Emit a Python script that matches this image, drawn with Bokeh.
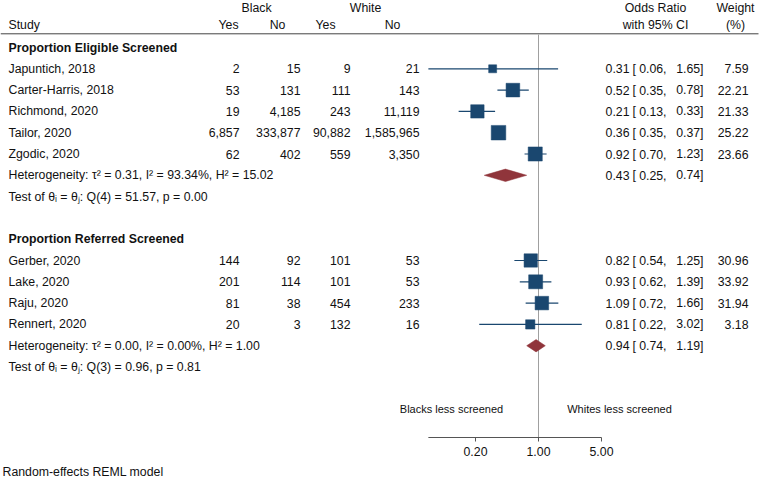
import numpy as np
from bokeh.plotting import figure
from bokeh.models import Range1d
from bokeh.core.properties import value
from bokeh.embed import file_html
from bokeh.resources import INLINE

# ---------------- data ----------------
group_titles = ["Proportion Eligible Screened", "Proportion Referred Screened"]

studies1 = ["Japuntich, 2018", "Carter-Harris, 2018", "Richmond, 2020", "Tailor, 2020", "Zgodic, 2020"]
black_yes1 = [2, 53, 19, 6857, 62]
black_no1 = [15, 131, 4185, 333877, 402]
white_yes1 = [9, 111, 243, 90882, 559]
white_no1 = [21, 143, 11119, 1585965, 3350]
or1 = [0.31, 0.52, 0.21, 0.36, 0.92]
lo1 = [0.06, 0.35, 0.13, 0.35, 0.70]
hi1 = [1.65, 0.78, 0.33, 0.37, 1.23]
w1 = [7.59, 22.21, 21.33, 25.22, 23.66]

studies2 = ["Gerber, 2020", "Lake, 2020", "Raju, 2020", "Rennert, 2020"]
black_yes2 = [144, 201, 81, 20]
black_no2 = [92, 114, 38, 3]
white_yes2 = [101, 101, 454, 132]
white_no2 = [53, 53, 233, 16]
or2 = [0.82, 0.93, 1.09, 0.81]
lo2 = [0.54, 0.62, 0.72, 0.22]
hi2 = [1.25, 1.39, 1.66, 3.02]
w2 = [30.96, 33.92, 31.94, 3.18]

overall_or = [0.43, 0.94]
overall_lo = [0.25, 0.74]
overall_hi = [0.74, 1.19]
tau2 = [0.31, 0.00]
i2 = [93.34, 0.00]
h2 = [15.02, 1.00]
q_df = [4, 3]
q_stat = [51.57, 0.96]
q_p = [0.00, 0.81]

axis_ticks = [0.2, 1.0, 5.0]
left_label = "Blacks less screened"
right_label = "Whites less screened"
footnote = "Random-effects REML model"

# ---------------- layout helpers ----------------
FONT = "Liberation Sans"
FS = "12.3px"
TXT = "#111111"
NAVY = "#1a476f"
MAROON = "#90353b"

OFF = 0                  # page offset of the figure (observed)
W, H = 762, 480
ZERO_PX = 538.0          # page x of OR = 1
PX_DEC = 90.13           # pixels per decade
ROW0 = 47.0              # page y of first row
ROW_H = 21.3             # pixels per row


def X(px):
    return (px - ZERO_PX) / PX_DEC


def Y(py):
    return (py - ROW0) / ROW_H


p = figure(width=W, height=H,
           x_range=Range1d(X(OFF), X(OFF + W)),
           y_range=Range1d(Y(OFF + H), Y(OFF)),
           x_axis_type=None, y_axis_type=None,
           output_backend="svg", toolbar_location=None, min_border=0)
p.grid.visible = False
p.outline_line_color = None
p.background_fill_color = "white"


def txt(x, y, s, align="left", size=FS, bold=False, baseline="middle"):
    p.text(x=x, y=y, text=s, text_align=align, text_baseline=baseline,
           text_font=value(FONT), text_font_size=size,
           text_font_style="bold" if bold else "normal", text_color=TXT)


# header
txt([X(256), X(365)], [Y(7.5), Y(7.5)], ["Black", "White"], align="center")
txt([X(8)], [Y(24)], ["Study"])
txt([X(228), X(277), X(325), X(392)], [Y(24)] * 4, ["Yes", "No", "Yes", "No"], align="center")
txt([X(655), X(655)], [Y(7.5), Y(24)], ["Odds Ratio", "with 95% CI"], align="center")
txt([X(735), X(735)], [Y(7.5), Y(24)], ["Weight", "(%)"], align="center")
p.segment(x0=[X(0)], x1=[X(758)], y0=[Y(33.3)], y1=[Y(33.3)], line_color="#444444", line_width=1)

# no-effect line
p.segment(x0=[np.log10(1.0)], x1=[np.log10(1.0)], y0=[Y(34)], y1=[Y(437)],
          line_color="#a0a0a0", line_width=1)

groups = [
    dict(studies=studies1, by=black_yes1, bn=black_no1, wy=white_yes1, wn=white_no1,
         est=or1, lo=lo1, hi=hi1, w=w1, start=0, scale=2.9, minsize=0),
    dict(studies=studies2, by=black_yes2, bn=black_no2, wy=white_yes2, wn=white_no2,
         est=or2, lo=lo2, hi=hi2, w=w2, start=9, scale=2.4, minsize=9.3),
]

for gi, g in enumerate(groups):
    r0 = g["start"]
    n = len(g["studies"])
    rows = [r0 + 1 + k for k in range(n)]
    txt([X(8)], [r0], [group_titles[gi]], bold=True)
    txt([X(8)] * n, rows, g["studies"])
    txt([X(239)] * n, rows, [f"{v:,}" for v in g["by"]], align="right")
    txt([X(300)] * n, rows, [f"{v:,}" for v in g["bn"]], align="right")
    txt([X(350)] * n, rows, [f"{v:,}" for v in g["wy"]], align="right")
    txt([X(419)] * n, rows, [f"{v:,}" for v in g["wn"]], align="right")
    # CI text
    txt([X(629)] * n, rows, [f"{v:.2f}" for v in g["est"]], align="right")
    txt([X(632)] * n, rows, ["["] * n)
    txt([X(666)] * n, rows, [f"{v:.2f}," for v in g["lo"]], align="right")
    txt([X(703)] * n, rows, [f"{v:.2f}]" for v in g["hi"]], align="right")
    txt([X(748)] * n, rows, [f"{v:.2f}" for v in g["w"]], align="right")

    # CI lines + squares
    p.segment(x0=np.log10(g["lo"]), x1=np.log10(g["hi"]), y0=rows, y1=rows,
              line_color=NAVY, line_width=1.2)
    sizes = np.maximum(g["scale"] * np.sqrt(g["w"]), g["minsize"])
    p.scatter(x=np.log10(g["est"]), y=rows, size=sizes, marker="square",
              fill_color=NAVY, line_color=NAVY, line_width=0.5)

    # overall diamond + stats
    hr = r0 + 1 + n
    tr = hr + 1
    e, l, h = np.log10([overall_or[gi], overall_lo[gi], overall_hi[gi]])
    dh = 6.2 / ROW_H
    p.patches(xs=[[l, e, h, e]], ys=[[hr, hr - dh, hr, hr + dh]],
              fill_color=MAROON, line_color=MAROON, line_width=0.5)
    txt([X(629)], [hr], [f"{overall_or[gi]:.2f}"], align="right")
    txt([X(632)], [hr], ["["])
    txt([X(666)], [hr], [f"{overall_lo[gi]:.2f},"], align="right")
    txt([X(703)], [hr], [f"{overall_hi[gi]:.2f}]"], align="right")
    txt([X(8)], [hr],
        [f"Heterogeneity: \u03c4\u00b2 = {tau2[gi]:.2f}, I\u00b2 = {i2[gi]:.2f}%, H\u00b2 = {h2[gi]:.2f}"])
    txt([X(8)], [tr],
        [f"Test of \u03b8\u1d62 = \u03b8\u2c7c: Q({q_df[gi]}) = {q_stat[gi]:.2f}, p = {q_p[gi]:.2f}"])

# direction labels
txt([X(451), X(619)], [Y(408), Y(408)], [left_label, right_label], align="center", size="11px")

# x axis (log scale drawn in log10 units)
all_lo = lo1 + lo2
ay = Y(437)
p.segment(x0=[np.log10(min(all_lo))], x1=[np.log10(max(axis_ticks))], y0=[ay], y1=[ay],
          line_color="#555555", line_width=1)
tk = np.log10(axis_ticks)
p.segment(x0=tk, x1=tk, y0=[ay] * len(tk), y1=[Y(441)] * len(tk),
          line_color="#555555", line_width=1)
txt(list(tk), [Y(450.5)] * len(tk), [f"{v:.2f}" for v in axis_ticks], align="center")

# footnote
txt([X(2)], [Y(471)], [footnote])

open("out.html", "w").write(file_html(p, INLINE))
